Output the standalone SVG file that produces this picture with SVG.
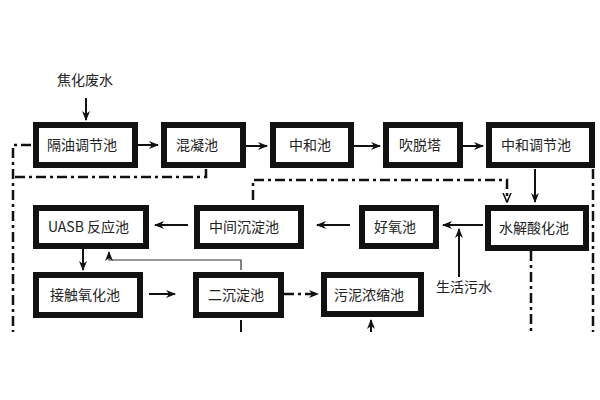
<svg xmlns="http://www.w3.org/2000/svg" width="600" height="400" viewBox="0 0 600 400">
<defs>
<marker id="a" markerWidth="10" markerHeight="8" refX="9" refY="4" orient="auto" markerUnits="userSpaceOnUse"><path d="M0,0 L10,4 L0,8 L3,4 Z" fill="#111"/></marker>
<marker id="o" markerWidth="10" markerHeight="10" refX="9" refY="5" orient="auto" markerUnits="userSpaceOnUse"><path d="M0,1 L9,5 L0,9" fill="none" stroke="#111" stroke-width="1.5"/></marker>
</defs>
<style>
.b{fill:#fff;stroke:#111;stroke-width:6}
.t{font-family:"Noto Sans CJK SC","Liberation Sans",sans-serif;font-size:14px;fill:#222}
.s{stroke:#111;stroke-width:2;fill:none}
.th{stroke:#333;stroke-width:1.2;fill:none}
.d{stroke:#111;stroke-width:2.5;fill:none;stroke-dasharray:10,4,3,4}
</style>
<rect width="600" height="400" fill="#fff"/>
<g id="connectors">
<path class="s" d="M86,98 V120" marker-end="url(#a)"/>
<path class="s" d="M138,145 H158" marker-end="url(#a)"/>
<path class="s" d="M246,146 H267" marker-end="url(#a)"/>
<path class="s" d="M354,146 H380" marker-end="url(#a)"/>
<path class="s" d="M463,146 H483" marker-end="url(#a)"/>
<path class="s" d="M535,169 V202" marker-end="url(#a)"/>
<path class="s" d="M483,225 H443" marker-end="url(#a)"/>
<path class="s" d="M459,277 V229" marker-end="url(#a)"/>
<path class="s" d="M350,225 H317" marker-end="url(#a)"/>
<path class="s" d="M188,225 H155" marker-end="url(#a)"/>
<path class="s" d="M83,249 V270" marker-end="url(#a)"/>
<path class="s" d="M149,294 H175" marker-end="url(#a)"/>
<path class="th" d="M241,270 V260 H109 V252" marker-end="url(#a)"/>
<path class="d" d="M284,294 H318" marker-end="url(#a)"/>
<path class="s" d="M241,320 V332"/>
<path class="s" d="M371,332 V320" marker-end="url(#a)"/>
<path class="d" d="M31,145 H13 V332"/>
<path class="d" d="M206,169 V177 H13"/>
<path class="d" d="M253,200 V180 H507 V202" marker-end="url(#o)"/>
<path class="d" d="M593,169 V332"/>
<path class="d" d="M531,251 V332"/>
</g>
<text class="t" x="57" y="85">焦化废水</text>
<text class="t" x="436" y="292">生活污水</text>
<g id="n1"><rect class="b" x="36" y="125" width="99" height="40"/><text class="t" x="47" y="150">隔油调节池</text></g>
<g id="n2"><rect class="b" x="164" y="125" width="79" height="40"/><text class="t" x="176" y="150">混凝池</text></g>
<g id="n3"><rect class="b" x="273" y="125" width="78" height="40"/><text class="t" x="289" y="150">中和池</text></g>
<g id="n4"><rect class="b" x="386" y="125" width="74" height="40"/><text class="t" x="399" y="150">吹脱塔</text></g>
<g id="n5"><rect class="b" x="489" y="125" width="103" height="40"/><text class="t" x="501" y="150">中和调节池</text></g>
<g id="n6"><rect class="b" x="36" y="208" width="110" height="38"/><text class="t" x="48" y="232">UASB 反应池</text></g>
<g id="n7"><rect class="b" x="197" y="208" width="104" height="38"/><text class="t" x="209" y="232">中间沉淀池</text></g>
<g id="n8"><rect class="b" x="362" y="208" width="74" height="38"/><text class="t" x="374" y="232">好氧池</text></g>
<g id="n9"><rect class="b" x="488" y="208" width="98" height="40"/><text class="t" x="499" y="233">水解酸化池</text></g>
<g id="n10"><rect class="b" x="36" y="275" width="104" height="40"/><text class="t" x="50" y="300">接触氧化池</text></g>
<g id="n11"><rect class="b" x="196" y="275" width="85" height="40"/><text class="t" x="208" y="300">二沉淀池</text></g>
<g id="n12"><rect class="b" x="324" y="275" width="97" height="39"/><text class="t" x="334" y="300">污泥浓缩池</text></g>
</svg>
